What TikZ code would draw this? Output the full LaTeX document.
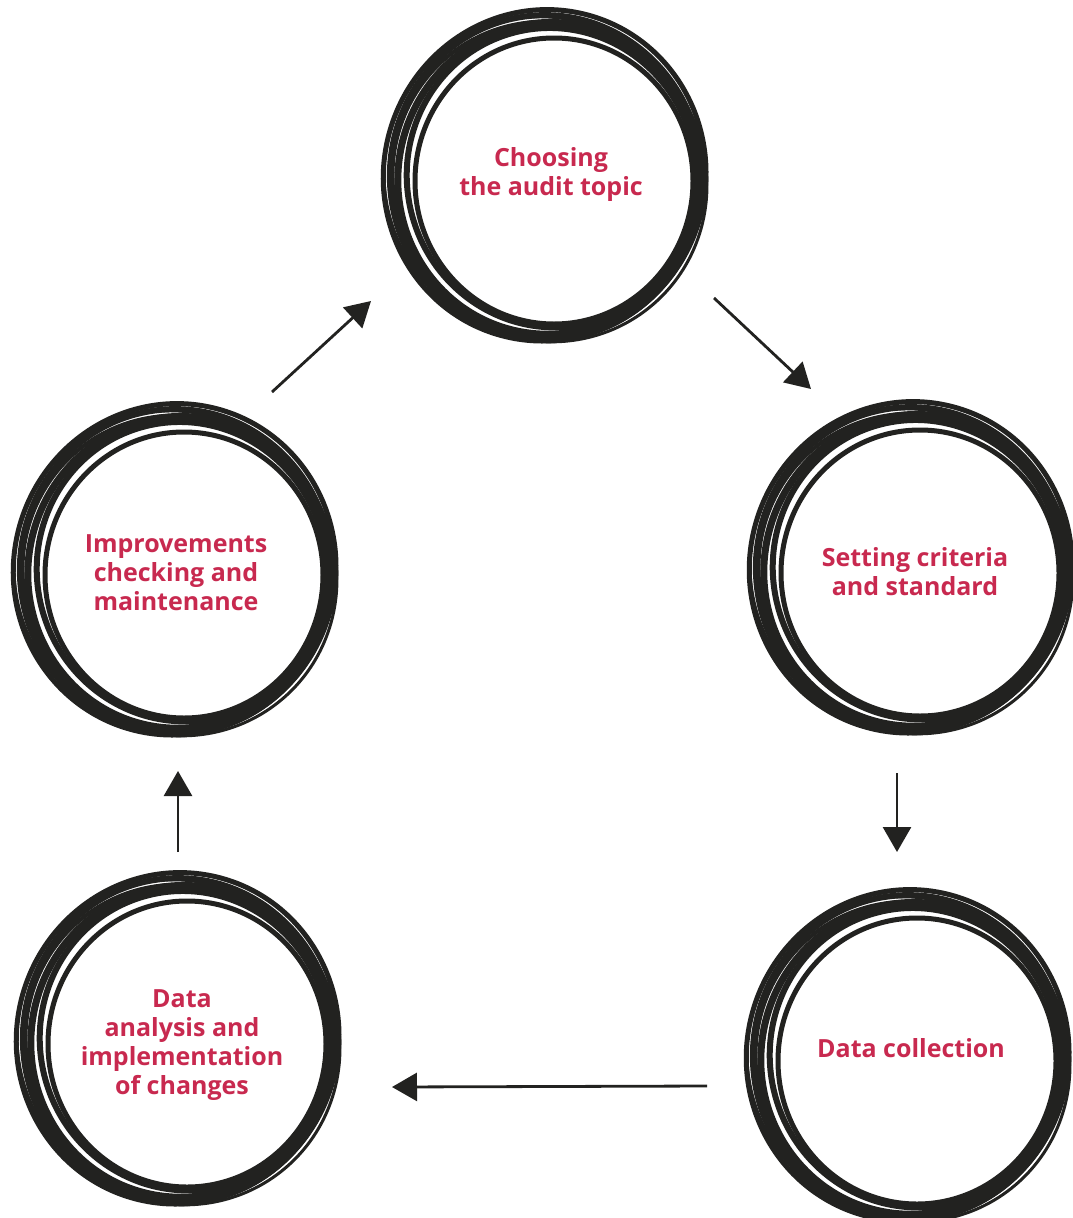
\documentclass[tikz,border=0pt]{standalone}
\usepackage{fontspec}
\setmainfont{Open Sans}
\usetikzlibrary{arrows.meta}
\definecolor{crimson}{HTML}{C8294F}
\definecolor{ink}{HTML}{222220}
\tikzset{
  stage/.style={text=crimson,font=\bfseries\fontsize{25}{29}\selectfont,align=center},
  flow/.style={-{Triangle[length=25pt,width=28pt]},line width=2.8pt,ink},
  pics/sketchring/.style={code={
    \foreach \dx/\dy/\rx/\ry/\rot/\lw in {7/3/139/143/0/5,5/1/145/150/15/6,2/0/151/156/-10/7,-1/-1/156/162/5/6,-3/-2/161/166/-15/5,0/1/154/158/30/4,-2/0/159/165/40/3}
      \draw[ink,line width=\lw pt,rotate=\rot] (\dx,\dy) ellipse [x radius=\rx pt,y radius=\ry pt];
  }}
}
\begin{document}
\begin{tikzpicture}[x=1pt,y=-1pt]
\useasboundingbox[fill=white] (0,0) rectangle (1073,1218);
% rings
\pic at (547,178) {sketchring};
\pic at (913,570) {sketchring};
\pic at (910,1058) {sketchring};
\pic at (180,1041) {sketchring};
\pic at (177,572) {sketchring};
% labels
\node[stage] (topic) at (551,175) {Choosing\\the audit topic};
\node[stage] (crit) at (915,572) {Setting criteria\\and standard};
\node[stage] (collect) at (911,1048) {Data collection};
\node[stage] (analysis) at (182,1045) {Data\\analysis and\\implementation\\of changes};
\node[stage] (improv) at (176,573) {Improvements\\checking and\\maintenance};
% arrow ends
\coordinate (a1) at (714,298); \coordinate (b1) at (811,389);
\coordinate (a2) at (897,773); \coordinate (b2) at (897,852);
\coordinate (a3) at (707,1086); \coordinate (b3) at (392,1087);
\coordinate (a4) at (178,852); \coordinate (b4) at (178,771);
\coordinate (a5) at (272,392); \coordinate (b5) at (371,301);
\foreach \i in {1,...,5}
  \draw[flow] (a\i) -- (b\i);
\end{tikzpicture}
\end{document}
